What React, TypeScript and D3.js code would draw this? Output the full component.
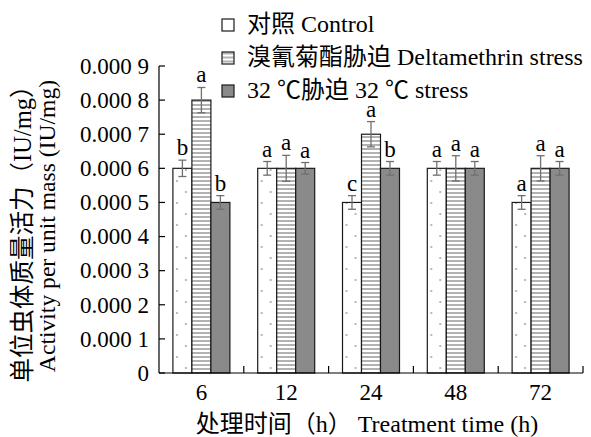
import React from "react";
import * as d3 from "d3";

const categories = ["6", "12", "24", "48", "72"];
const seriesKeys = ["control", "deltamethrin", "heat"];
const seriesNames = ["对照 Control", "溴氰菊酯胁迫 Deltamethrin stress", "32 ℃胁迫 32 ℃ stress"];

const controlValues = [0.0006, 0.0006, 0.0005, 0.0006, 0.0005];
const controlErrors = [0.000024, 0.00002, 0.00002, 0.00002, 0.00002];
const controlLetters = ["b", "a", "c", "a", "a"];

const deltamethrinValues = [0.0008, 0.0006, 0.0007, 0.0006, 0.0006];
const deltamethrinErrors = [0.000037, 0.000038, 0.000037, 0.000037, 0.000037];
const deltamethrinLetters = ["a", "a", "a", "a", "a"];

const heatValues = [0.0005, 0.0006, 0.0006, 0.0006, 0.0006];
const heatErrors = [0.00002, 0.000017, 0.00002, 0.00002, 0.00002];
const heatLetters = ["b", "a", "b", "a", "a"];

const yTickValues = [0, 0.0001, 0.0002, 0.0003, 0.0004, 0.0005, 0.0006, 0.0007, 0.0008, 0.0009];
const yTickLabels = ["0", "0.000 1", "0.000 2", "0.000 3", "0.000 4", "0.000 5", "0.000 6", "0.000 7", "0.000 8", "0.000 9"];

const yTitleZh = "单位虫体质量活力（IU/mg）";
const yTitleEn = "Activity per unit mass (IU/mg)";
const xTitle = "处理时间（h） Treatment time (h)";

const FONT = "'Liberation Serif', 'Noto Sans CJK SC', serif";
const FS = 23;

export default function App() {
  const W = 591, H = 437;
  const left = 159, right = 583, top = 66, bottom = 373;

  const x0 = d3.scaleBand<string>().domain(categories).range([left, right]).paddingInner(0.328).paddingOuter(0.164);
  const x1 = d3.scaleBand<string>().domain(seriesKeys).range([0, x0.bandwidth()]);
  const y = d3.scaleLinear().domain([0, 0.0009]).range([bottom, top]);

  const series = [
    { key: "control", values: controlValues, errors: controlErrors, letters: controlLetters, fill: "url(#dots)" },
    { key: "deltamethrin", values: deltamethrinValues, errors: deltamethrinErrors, letters: deltamethrinLetters, fill: "url(#stripes)" },
    { key: "heat", values: heatValues, errors: heatErrors, letters: heatLetters, fill: "#8a8a8a" },
  ];

  const step = x0.step();
  const sepTicks = categories.map((_, i) => left + step * (i + 1));

  return (
    <div style={{ position: "absolute", left: 0, top: 0 }}>
      <svg width={W} height={H} style={{ display: "block", background: "#fff", fontFamily: FONT }}>
        <defs>
          <pattern id="dots" patternUnits="userSpaceOnUse" width={18} height={22}>
            <rect width={18} height={22} fill="#fff" />
            <rect x={3} y={4} width={2} height={2} fill="#b8b8b8" />
            <rect x={12} y={15} width={2} height={2} fill="#b8b8b8" />
          </pattern>
          <pattern id="stripes" patternUnits="userSpaceOnUse" width={4} height={4}>
            <rect width={4} height={4} fill="#fff" />
            <rect y={0} width={4} height={2} fill="#b2b2b2" />
          </pattern>
        </defs>

        {categories.map((c, i) => (
          <g key={c} transform={`translate(${x0(c)},0)`}>
            {series.map((s) => {
              const bx = x1(s.key)!;
              const bw = x1.bandwidth();
              const v = s.values[i];
              const e = s.errors[i];
              const cx = bx + bw / 2;
              return (
                <g key={s.key}>
                  <rect x={bx} y={y(v)} width={bw} height={y(0) - y(v)} fill={s.fill} stroke="#1a1a1a" strokeWidth={1.2} />
                  <g stroke="#707070" strokeWidth={1.3}>
                    <line x1={cx} x2={cx} y1={y(v + e)} y2={y(v - e)} />
                    <line x1={cx - 4} x2={cx + 4} y1={y(v + e)} y2={y(v + e)} />
                    <line x1={cx - 4} x2={cx + 4} y1={y(v - e)} y2={y(v - e)} />
                  </g>
                  <text x={cx} y={y(v + e) - 5} textAnchor="middle" fontSize={FS} fill="#000">{s.letters[i]}</text>
                </g>
              );
            })}
          </g>
        ))}

        <g stroke="#000" strokeWidth={1.2} fill="none">
          <line x1={left} x2={left} y1={top} y2={bottom} />
          <line x1={left} x2={right} y1={bottom} y2={bottom} />
          {yTickValues.map((t) => (
            <line key={t} x1={left} x2={left + 6} y1={y(t)} y2={y(t)} />
          ))}
          {sepTicks.map((sx, i) => (
            <line key={i} x1={sx} x2={sx} y1={bottom} y2={bottom - 7} />
          ))}
        </g>
        {yTickValues.map((t, i) => (
          <text key={t} x={left - 10} y={y(t)} dy="0.34em" textAnchor="end" fontSize={FS}>{yTickLabels[i]}</text>
        ))}
        {categories.map((c) => (
          <text key={c} x={x0(c)! + x0.bandwidth() / 2} y={400} textAnchor="middle" fontSize={FS}>{c}</text>
        ))}

        <text x={367} y={432} textAnchor="middle" fontSize={24}>{xTitle}</text>
        <text transform="translate(22,228) rotate(-90)" textAnchor="middle" dominantBaseline="central" fontSize={24.5}>{yTitleZh}</text>
        <text transform="translate(47,226) rotate(-90)" textAnchor="middle" dominantBaseline="central" fontSize={23.6}>{yTitleEn}</text>

        {series.map((s, i) => (
          <g key={s.key} transform={`translate(222,${31.5 + i * 33})`}>
            <rect x={0} y={-12.5} width={12} height={12} fill={s.fill} stroke="#1a1a1a" strokeWidth={1.2} />
            <text x={25} y={0} fontSize={24}>{seriesNames[i]}</text>
          </g>
        ))}
      </svg>
    </div>
  );
}
